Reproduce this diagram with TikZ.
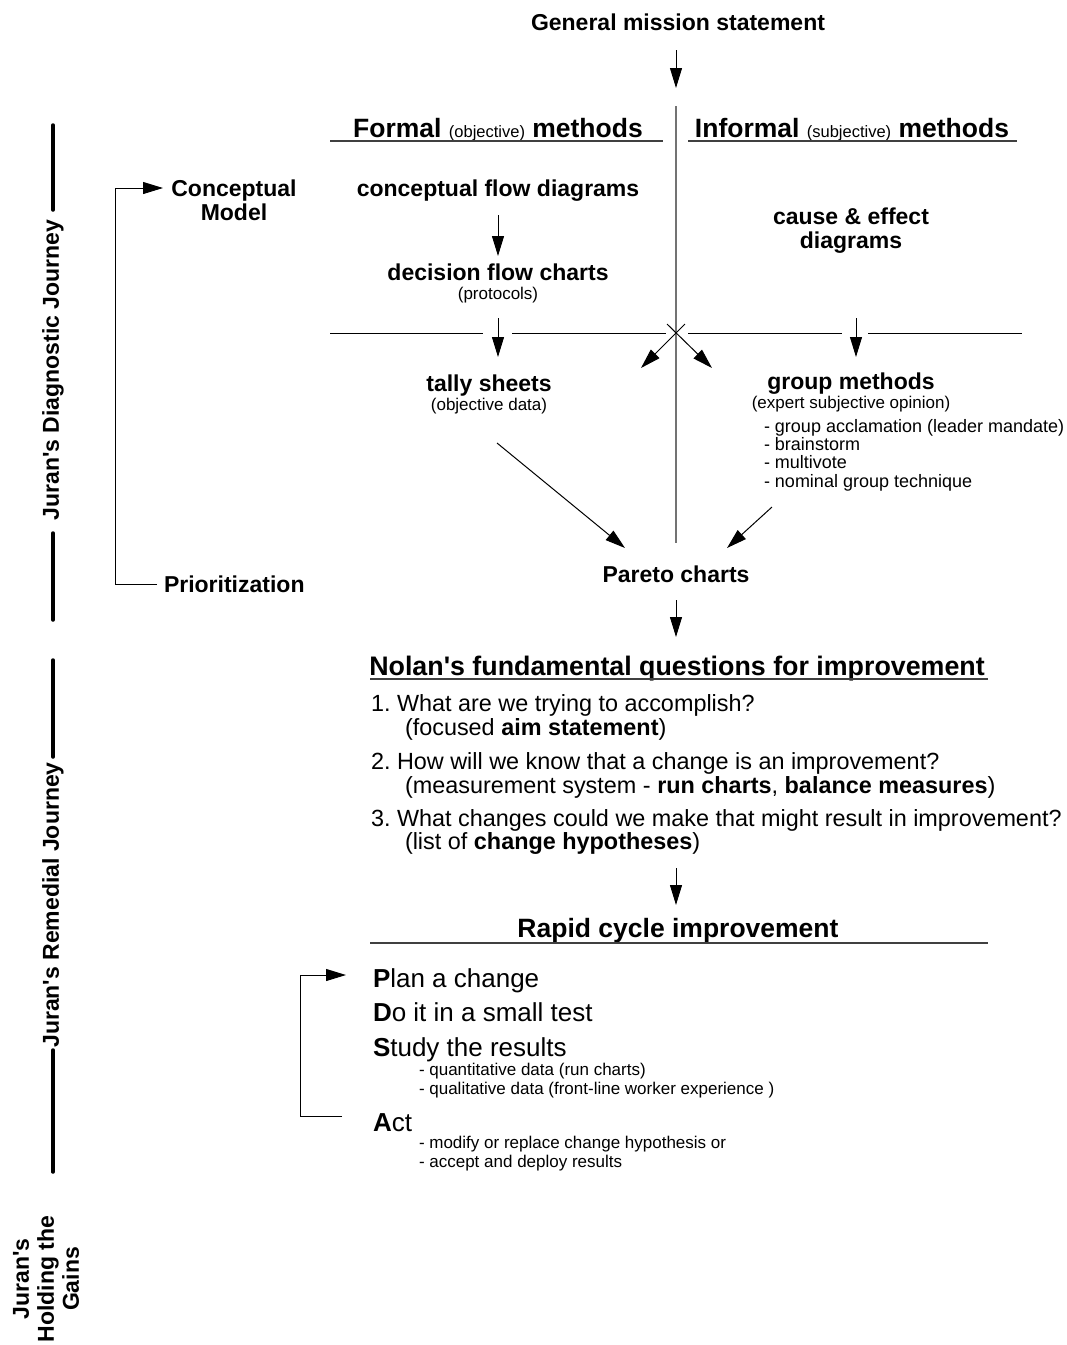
\documentclass[tikz,border=0pt]{standalone}
\usepackage{fontspec}
\setmainfont{Liberation Sans}
\usetikzlibrary{arrows.meta}
\newcommand\sq{{\XeTeXglyph\XeTeXcharglyph"0027\relax}}
\frenchspacing
\begin{document}
\begin{tikzpicture}[x=1pt,y=-1pt,
  every node/.style={inner sep=0pt, outer sep=0pt, anchor=base},
  lbl/.style={font=\fontsize{23}{25}\selectfont\bfseries},
  paren/.style={font=\fontsize{17}{18}\selectfont},
  litem/.style={font=\fontsize{18}{19}\selectfont, anchor=base west},
  head/.style={font=\fontsize{26.8}{29}\selectfont\bfseries},
  qitem/.style={font=\fontsize{23.4}{25}\selectfont, anchor=base west},
  pdsa/.style={font=\fontsize{26}{28}\selectfont, anchor=base west},
  sitem/.style={font=\fontsize{17}{18}\selectfont, anchor=base west},
  side/.style={font=\fontsize{23}{25}\selectfont\bfseries, rotate=90, anchor=center},
  arr/.style={-{Triangle[length=20pt,width=12pt]}, line width=1pt},
  thinl/.style={line width=1pt},
  uline/.style={line width=1.5pt, black!75},
  gline/.style={line width=1.2pt, black!55},
  journey/.style={line width=3.5pt, line cap=round},
]
\useasboundingbox (0,0) rectangle (1067,1345);

% ---------- top ----------
\node[lbl] (gms) at (678,30) {General mission statement};
\coordinate (gmsA) at (676,50);
\coordinate (gmsB) at (676,88);
\draw[arr] (gmsA) -- (gmsB);

\draw[gline] (676,106) -- (676,543);

\node[font=\fontsize{26.5}{28}\selectfont] (formal) at (498,137)
  {\bfseries Formal {\mdseries\fontsize{16.5}{17}\selectfont (objective)} methods};
\node[font=\fontsize{26.5}{28}\selectfont] (informal) at (852,137)
  {\bfseries Informal {\mdseries\fontsize{16.5}{17}\selectfont (subjective)} methods};
\draw[uline] (330,141) -- (663,141);
\draw[uline] (688,141) -- (1017,141);

% ---------- formal column ----------
\node[lbl] (cfd) at (498,196) {conceptual flow diagrams};
\coordinate (a1s) at (498,215);
\coordinate (a1e) at (498,256);
\draw[arr] (a1s) -- (a1e);
\node[lbl] (dfc) at (498,280) {decision flow charts};
\node[paren] (dfcp) at (498,299) {(protocols)};

% ---------- informal column ----------
\node[lbl] (ce1) at (851,224) {cause \& effect};
\node[lbl] (ce2) at (851,248) {diagrams};

% ---------- horizontal divider ----------
\draw[thinl] (330,333) -- (483,333);
\draw[thinl] (512,333) -- (666,333);
\draw[thinl] (688,333) -- (842,333);
\draw[thinl] (868,333) -- (1022,333);
\coordinate (a2s) at (498,318);
\coordinate (a2e) at (498,357);
\draw[arr] (a2s) -- (a2e);
\coordinate (a3s) at (856,318);
\coordinate (a3e) at (856,357);
\draw[arr] (a3s) -- (a3e);
\coordinate (x1) at (685,324);
\coordinate (x1e) at (641,368);
\coordinate (x2) at (667,324);
\coordinate (x2e) at (712,368);
\draw[arr] (x1) -- (x1e);
\draw[arr] (x2) -- (x2e);

% ---------- tally / group ----------
\node[lbl] (tally) at (489,391) {tally sheets};
\node[paren] (tallyp) at (489,410) {(objective data)};
\node[lbl] (grp) at (851,389) {group methods};
\node[paren] (grpp) at (851,408) {(expert subjective opinion)};
\node[litem] (g1) at (764,432) {- group acclamation (leader mandate)};
\node[litem] (g2) at (764,450) {- brainstorm};
\node[litem] (g3) at (764,468) {- multivote};
\node[litem] (g4) at (764,487) {- nominal group technique};

\coordinate (d1s) at (497,443);
\coordinate (d1e) at (625,548);
\coordinate (d2s) at (772,507);
\coordinate (d2e) at (727,548);
\draw[arr] (d1s) -- (d1e);
\draw[arr] (d2s) -- (d2e);

\node[lbl] (pareto) at (676,582) {Pareto charts};
\coordinate (a4s) at (676,600);
\coordinate (a4e) at (676,637);
\draw[arr] (a4s) -- (a4e);

% ---------- left loop (diagnostic) ----------
\node[lbl] (cm1) at (234,196) {Conceptual};
\node[lbl] (cm2) at (234,220) {Model};
\node[lbl, anchor=base west] (prio) at (164,592) {Prioritization};
\coordinate (l1) at (157,584);
\coordinate (l2) at (115,584);
\coordinate (l3) at (115,188);
\coordinate (l4) at (163,188);
\draw[arr] (l1) -- (l2) -- (l3) -- (l4);

% ---------- Nolan ----------
\node[head] (nolan) at (677,675) {Nolan\sq s fundamental questions for improvement};
\draw[uline] (370,679) -- (988,679);
\node[qitem] (q1) at (371,711) {1. What are we trying to accomplish?};
\node[qitem] (q1b) at (405,735) {(focused \textbf{aim statement})};
\node[qitem] (q2) at (371,769) {2. How will we know that a change is an improvement?};
\node[qitem] (q2b) at (405,793) {(measurement system - \textbf{run charts}, \textbf{balance measures})};
\node[qitem] (q3) at (371,826) {3. What changes could we make that might result in improvement?};
\node[qitem] (q3b) at (405,849) {(list of \textbf{change hypotheses})};
\coordinate (a5s) at (676,868);
\coordinate (a5e) at (676,905);
\draw[arr] (a5s) -- (a5e);

% ---------- Rapid cycle ----------
\node[font=\fontsize{26.5}{28}\selectfont\bfseries] (rapid) at (678,937) {Rapid cycle improvement};
\draw[uline] (370,943) -- (988,943);
\node[pdsa] (pl) at (373,987) {\textbf{P}lan a change};
\node[pdsa] (do) at (373,1021) {\textbf{D}o it in a small test};
\node[pdsa] (st) at (373,1056) {\textbf{S}tudy the results};
\node[sitem] (s1) at (419,1075) {- quantitative data (run charts)};
\node[sitem] (s2) at (419,1094) {- qualitative data (front-line worker experience )};
\node[pdsa] (act) at (373,1131) {\textbf{A}ct};
\node[sitem] (ac1) at (419,1148) {- modify or replace change hypothesis or};
\node[sitem] (ac2) at (419,1167) {- accept and deploy results};
\coordinate (p1) at (342,1116);
\coordinate (p2) at (300,1116);
\coordinate (p3) at (300,975);
\coordinate (p4) at (346,975);
\draw[arr] (p1) -- (p2) -- (p3) -- (p4);

% ---------- side labels ----------
\draw[journey] (53,125) -- (53,210);
\draw[journey] (53,533) -- (53,620);
\node[side] (jd) at (53,370) {Juran\sq s Diagnostic Journey};
\draw[journey] (53,660) -- (53,757);
\draw[journey] (53,1050) -- (53,1172);
\node[side] (jr) at (53,905) {Juran\sq s Remedial Journey};
\node[side, align=center, font=\fontsize{23}{25}\selectfont\bfseries] (jh) at (46,1279) {Juran\sq s\\Holding the\\Gains};
\end{tikzpicture}
\end{document}
